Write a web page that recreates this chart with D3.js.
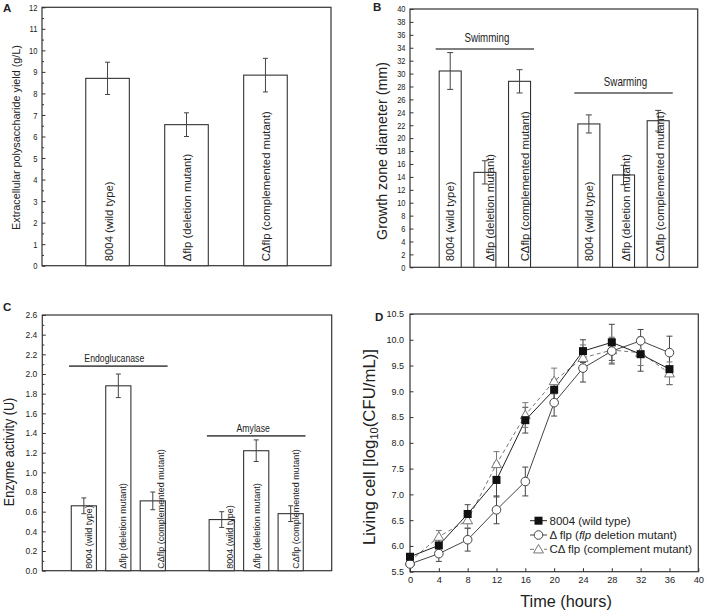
<!DOCTYPE html>
<html><head><meta charset="utf-8">
<script src="https://cdn.jsdelivr.net/npm/d3@7"></script>
<style>
body{margin:0;background:#fff}
svg{display:block}
text{font-family:"Liberation Sans",Arial,Helvetica,sans-serif;fill:#222}
</style>
</head><body>
<svg id="c" width="709" height="615"></svg>
<script>
// ---------------- DATA ----------------
const strainLabels = ["8004 (wild type)", "Δflp (deletion mutant)", "CΔflp (complemented mutant)"];
// Panel A
const epsYield = [8.7, 6.55, 8.85];
const epsErr = [0.75, 0.55, 0.78];
const epsTicks = d3.range(0, 13, 1);
// Panel B
const motilityGroups = ["Swimming", "Swarming"];
const swimming = [30.4, 14.7, 28.8];
const swimmingErr = [2.85, 1.8, 1.8];
const swarming = [22.2, 14.3, 22.7];
const swarmingErr = [1.4, 1.5, 1.6];
const motilityBracket = [33.8, 27.0];
const motilityTicks = d3.range(0, 41, 2);
// Panel C
const enzymeGroups = ["Endoglucanase", "Amylase"];
const endoglucanase = [0.66, 1.88, 0.71];
const endoglucanaseErr = [0.08, 0.12, 0.09];
const amylase = [0.52, 1.22, 0.58];
const amylaseErr = [0.08, 0.11, 0.08];
const enzymeBracket = [2.08, 1.37];
const enzymeTicks = d3.range(0, 27, 2).map(d => d / 10);
// Panel D
const hours = [0, 4, 8, 12, 16, 20, 24, 28, 32, 36];
const hourTicks = [0, 4, 8, 12, 16, 20, 24, 28, 32, 36, 40];
const cellTicks = [5.5, 6.0, 6.5, 7.0, 7.5, 8.0, 8.5, 9.0, 9.5, 10.0, 10.5];
const wildType = [5.79, 6.01, 6.62, 7.28, 8.44, 9.03, 9.78, 9.95, 9.72, 9.43];
const wildTypeErr = [0.05, 0.12, 0.18, 0.33, 0.25, 0.20, 0.22, 0.35, 0.33, 0.30];
const deletion = [5.65, 5.85, 6.12, 6.70, 7.25, 8.78, 9.45, 9.78, 9.98, 9.75];
const deletionErr = [0.05, 0.15, 0.22, 0.27, 0.28, 0.26, 0.27, 0.25, 0.22, 0.32];
const complement = [5.70, 6.18, 6.50, 7.59, 8.54, 9.20, 9.65, 9.80, 9.75, 9.35];
const complementErr = [0.05, 0.12, 0.15, 0.24, 0.24, 0.25, 0.25, 0.25, 0.25, 0.22];
const legendLabels = ["8004 (wild type)", "Δ flp (", "CΔ flp (complement mutant)"];

// ---------------- DRAW ----------------
const svg = d3.select("#c");
const INK = "#333";

function frame(x0, x1, y0, y1) {
  svg.append("rect").attr("x", x0).attr("y", y0).attr("width", x1 - x0).attr("height", y1 - y0)
    .attr("fill", "none").attr("stroke", INK).attr("stroke-width", 1.2);
}
function yAxis(scale, x, major, minor, fmt, fs, sx, pad) {
  const g = svg.append("g").attr("transform", `translate(${x},0)`);
  if (minor) {
    g.append("g").call(d3.axisLeft(scale).tickValues(minor).tickSize(-2).tickFormat(""))
      .call(s => { s.select(".domain").remove(); s.selectAll("line").attr("stroke", INK); });
  }
  const a = g.append("g").call(d3.axisLeft(scale).tickValues(major).tickSize(-3.5).tickPadding(pad).tickFormat(fmt));
  a.select(".domain").remove();
  a.selectAll("line").attr("stroke", INK);
  a.selectAll("text").attr("x", 0).attr("transform", `translate(${-pad},0) scale(${sx},1)`)
    .style("font-size", fs + "px").style("font-family", '"Liberation Sans",Arial,sans-serif').attr("fill", "#222");
}
function label(x, y, str, fs, opts = {}) {
  const rot = opts.rotate || 0, sx = opts.sx || 1, sy = opts.sy || 1;
  return svg.append("text")
    .attr("transform", `translate(${x},${y}) scale(${sx},${sy}) rotate(${rot})`)
    .attr("text-anchor", opts.anchor || "middle").attr("dy", opts.dy || 0)
    .style("font-size", fs + "px").style("font-weight", opts.bold ? "bold" : "normal")
    .text(str);
}
function barSet(xs, ys, pos, vals, errs, widthU, capW, labelFs, labelDx, labelPad) {
  const base = ys(0);
  pos.forEach((p, i) => {
    const cx = xs(p), w = xs(p + widthU / 2) - xs(p - widthU / 2);
    svg.append("rect").attr("x", cx - w / 2).attr("y", ys(vals[i])).attr("width", w)
      .attr("height", base - ys(vals[i])).attr("fill", "#fff").attr("stroke", INK).attr("stroke-width", 1.1);
    const hi = ys(vals[i] + errs[i]), lo = ys(vals[i] - errs[i]);
    const e = svg.append("g").attr("stroke", "#444").attr("stroke-width", 1);
    e.append("line").attr("x1", cx).attr("x2", cx).attr("y1", hi).attr("y2", lo);
    e.append("line").attr("x1", cx - capW / 2).attr("x2", cx + capW / 2).attr("y1", hi).attr("y2", hi);
    e.append("line").attr("x1", cx - capW / 2).attr("x2", cx + capW / 2).attr("y1", lo).attr("y2", lo);
    label(cx + labelDx[i], base - labelPad, strainLabels[i % 3], labelFs, { rotate: -90, anchor: "start", dy: "0.35em" });
  });
}

// ---- Panel A ----
{
  const x0 = 42, x1 = 331, y0 = 7.3, y1 = 265.7;
  const xs = d3.scaleLinear().domain([0.17, 3.83]).range([x0, x1]);
  const ys = d3.scaleLinear().domain([0, 12]).range([y1, y0]);
  frame(x0, x1, y0, y1);
  yAxis(ys, x0, epsTicks, d3.range(0.5, 12, 1), d3.format("d"), 9.5, 0.8, 4.5);
  barSet(xs, ys, [1, 2, 3], epsYield, epsErr, 0.552, 5, 11.3, [1.5, 1, 1], 4.5);
  label(15.8, 137.5, "Extracellular polysaccharide yield (g/L)", 10.8, { rotate: -90, dy: "0.35em" });
  label(3, 12, "A", 11.5, { anchor: "start", bold: true });
}

// ---- Panel B ----
{
  const x0 = 410, x1 = 697.7, y0 = 9, y1 = 267.3;
  const xs = d3.scaleLinear().domain([-0.16, 8.14]).range([x0, x1]);
  const ys = d3.scaleLinear().domain([0, 40]).range([y1, y0]);
  frame(x0, x1, y0, y1);
  yAxis(ys, x0, motilityTicks, null, d3.format("d"), 8.8, 0.85, 4.5);
  barSet(xs, ys, [1, 2, 3], swimming, swimmingErr, 0.635, 6, 11.3, [0, 5, 5], 6);
  barSet(xs, ys, [5, 6, 7], swarming, swarmingErr, 0.635, 6, 11.3, [0, 3, 2], 6);
  motilityGroups.forEach((gname, gi) => {
    const c = 2 + 4 * gi, yy = ys(motilityBracket[gi]);
    svg.append("line").attr("x1", xs(c - 1.42)).attr("x2", xs(c + 1.42)).attr("y1", yy).attr("y2", yy)
      .attr("stroke", "#555").attr("stroke-width", 1.6);
    label(xs(c) + 2, yy - 6.7, gname, 13, { sx: 0.75 });
  });
  label(382.3, 151, "Growth zone diameter (mm)", 14.3, { rotate: -90, dy: "0.35em" });
  label(373, 11, "B", 11.5, { anchor: "start", bold: true });
}

// ---- Panel C ----
{
  const x0 = 42.3, x1 = 331.7, y0 = 315, y1 = 570.7;
  const xs = d3.scaleLinear().domain([-0.205, 8.19]).range([x0, x1]);
  const ys = d3.scaleLinear().domain([0, 2.6]).range([y1, y0]);
  frame(x0, x1, y0, y1);
  yAxis(ys, x0, enzymeTicks, d3.range(1, 26, 2).map(d => d / 10), d3.format(".1f"), 9, 0.95, 5);
  barSet(xs, ys, [1, 2, 3], endoglucanase, endoglucanaseErr, 0.73, 5, 9, [5.4, 5, 8], 2);
  barSet(xs, ys, [5, 6, 7], amylase, amylaseErr, 0.73, 5, 9, [8, 0.5, 5], 2);
  enzymeGroups.forEach((gname, gi) => {
    const c = 2 + 4 * gi, yy = ys(enzymeBracket[gi]);
    svg.append("line").attr("x1", xs(c - 1.43)).attr("x2", xs(c + 1.43)).attr("y1", yy).attr("y2", yy)
      .attr("stroke", "#555").attr("stroke-width", 1.8);
    label(xs(c) - 4 + gi * 1, yy - 4, gname, 11, { sx: 0.79 });
  });
  label(8.8, 452, "Enzyme activity (U)", 15, { rotate: -90, dy: "0.35em", sy: 0.84 });
  label(3, 311, "C", 11.5, { anchor: "start", bold: true });
}

// ---- Panel D ----
{
  const x0 = 410, x1 = 698.3, y0 = 314, y1 = 571.7;
  const xs = d3.scaleLinear().domain([0, 40]).range([x0, x1]);
  const ys = d3.scaleLinear().domain([5.5, 10.5]).range([y1, y0]);
  frame(x0, x1, y0, y1);
  yAxis(ys, x0, cellTicks, null, d3.format(".1f"), 9, 1, 6);
  const xa = svg.append("g").attr("transform", `translate(0,${y1})`)
    .call(d3.axisBottom(xs).tickValues(hourTicks).tickSize(-3.5).tickPadding(5).tickFormat(d3.format("d")));
  xa.select(".domain").remove();
  xa.selectAll("line").attr("stroke", INK);
  xa.selectAll("text").style("font-size", "9.3px").style("font-family", '"Liberation Sans",Arial,sans-serif').attr("fill", "#222");

  const series = [
    { v: wildType, e: wildTypeErr, marker: "square", color: "#222", dash: null },
    { v: deletion, e: deletionErr, marker: "circle", color: "#444", dash: null },
    { v: complement, e: complementErr, marker: "triangle", color: "#777", dash: "4,3" }
  ];
  const line = d3.line().x(d => xs(d[0])).y(d => ys(d[1]));
  function marker(g, kind, x, y, color) {
    if (kind === "square") {
      g.append("rect").attr("x", x - 4).attr("y", y - 4).attr("width", 8).attr("height", 8).attr("fill", "#111");
    } else if (kind === "circle") {
      g.append("circle").attr("cx", x).attr("cy", y).attr("r", 4.3).attr("fill", "#fff").attr("stroke", color).attr("stroke-width", 1);
    } else {
      g.append("path").attr("d", d3.symbol(d3.symbolTriangle, 42)()).attr("transform", `translate(${x},${y + 0.8})`)
        .attr("fill", "#fff").attr("stroke", color).attr("stroke-width", 1);
    }
  }
  series.forEach(s => {
    const g = svg.append("g").attr("stroke", s.color === "#777" ? "#777" : "#444").attr("stroke-width", 1);
    hours.forEach((h, i) => {
      const cx = xs(h), hi = ys(s.v[i] + s.e[i]), lo = ys(s.v[i] - s.e[i]);
      g.append("line").attr("x1", cx).attr("x2", cx).attr("y1", hi).attr("y2", lo);
      g.append("line").attr("x1", cx - 3).attr("x2", cx + 3).attr("y1", hi).attr("y2", hi);
      g.append("line").attr("x1", cx - 3).attr("x2", cx + 3).attr("y1", lo).attr("y2", lo);
    });
  });
  series.slice().reverse().forEach(s => {
    svg.append("path").attr("d", line(hours.map((h, i) => [h, s.v[i]]))).attr("fill", "none")
      .attr("stroke", s.color).attr("stroke-width", 1).attr("stroke-dasharray", s.dash);
  });
  series.slice().reverse().forEach(s => {
    const g = svg.append("g");
    hours.forEach((h, i) => marker(g, s.marker, xs(h), ys(s.v[i]), s.color));
  });
  const ly = [520.7, 535, 549.3];
  series.forEach((s, i) => {
    svg.append("line").attr("x1", 530).attr("x2", 547).attr("y1", ly[i]).attr("y2", ly[i])
      .attr("stroke", s.color).attr("stroke-width", 1).attr("stroke-dasharray", s.dash);
    marker(svg, s.marker, 538.5, ly[i], s.color);
  });
  label(549.5, ly[0], legendLabels[0], 11.5, { anchor: "start", dy: "0.35em" });
  const t2 = label(549.5, ly[1], legendLabels[1], 11.5, { anchor: "start", dy: "0.35em" });
  t2.append("tspan").style("font-style", "italic").text("flp");
  t2.append("tspan").text(" deletion mutant)");
  label(549.5, ly[2], legendLabels[2], 11.5, { anchor: "start", dy: "0.35em" });

  label(566, 607, "Time (hours)", 16.3);
  const yl = svg.append("text").attr("transform", "translate(369,447) rotate(-90)")
    .attr("text-anchor", "middle").attr("dy", "0.35em").style("font-size", "16.8px");
  yl.append("tspan").text("Living cell [log");
  yl.append("tspan").attr("dy", "0.3em").style("font-size", "11px").text("10");
  yl.append("tspan").attr("dy", "-0.2em").text("(CFU/mL)]");
  label(375, 320.5, "D", 11.5, { anchor: "start", bold: true });
}
</script>
</body></html>
